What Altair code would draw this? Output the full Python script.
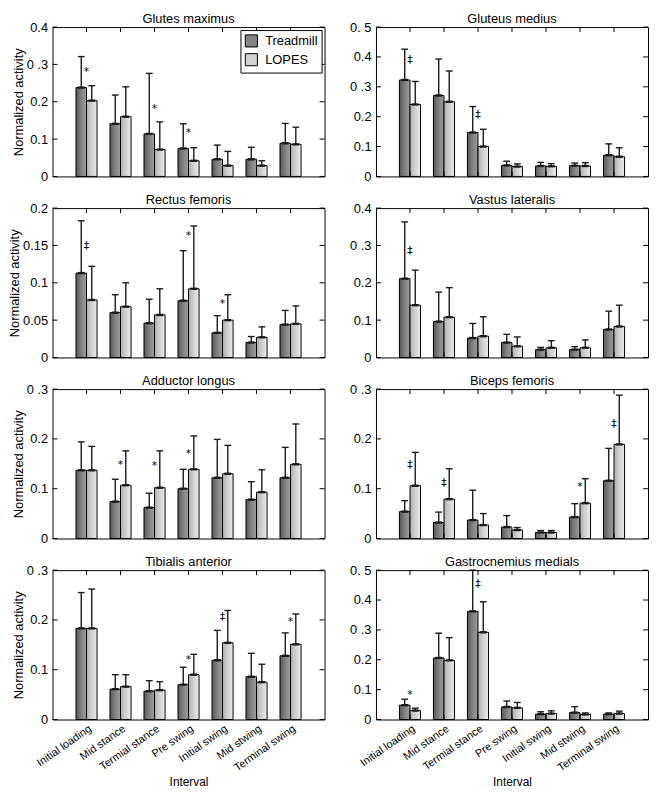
import altair as alt
import pandas as pd

INTERVALS = ['Initial loading', 'Mid stance', 'Termial stance', 'Pre swing',
             'Initial swing', 'Mid stwing', 'Terminal swing']
SERIES = ['Treadmill', 'LOPES']
MUSCLES = ['Glutes maximus', 'Gluteus medius', 'Rectus femoris', 'Vastus lateralis',
           'Adductor longus', 'Biceps femoris', 'Tibialis anterior', 'Gastrocnemius medials']
Y_MAX = [0.4, 0.5, 0.2, 0.4, 0.3, 0.3, 0.3, 0.5]
Y_TICKS = [
    [0, 0.1, 0.2, 0.3, 0.4],
    [0, 0.1, 0.2, 0.3, 0.4, 0.5],
    [0, 0.05, 0.1, 0.15, 0.2],
    [0, 0.1, 0.2, 0.3, 0.4],
    [0, 0.1, 0.2, 0.3],
    [0, 0.1, 0.2, 0.3],
    [0, 0.1, 0.2, 0.3],
    [0, 0.1, 0.2, 0.3, 0.4, 0.5],
]

# mean (bar) and upper end of error bar, per muscle, per interval
GMAX_T = [0.238, 0.141, 0.114, 0.075, 0.046, 0.046, 0.089]
GMAX_T_UP = [0.321, 0.218, 0.276, 0.141, 0.084, 0.078, 0.142]
GMAX_L = [0.203, 0.160, 0.072, 0.042, 0.029, 0.029, 0.086]
GMAX_L_UP = [0.243, 0.240, 0.146, 0.077, 0.067, 0.042, 0.132]
GMAX_SIG = [(1, '*', 0.28), (3, '*', 0.18), (4, '*', 0.116)]

GMED_T = [0.323, 0.271, 0.147, 0.037, 0.035, 0.036, 0.071]
GMED_T_UP = [0.426, 0.393, 0.234, 0.051, 0.047, 0.045, 0.109]
GMED_L = [0.241, 0.250, 0.100, 0.033, 0.034, 0.035, 0.066]
GMED_L_UP = [0.318, 0.353, 0.158, 0.042, 0.043, 0.046, 0.096]
GMED_SIG = [(1, '‡', 0.39), (3, '‡', 0.204)]

RF_T = [0.113, 0.060, 0.046, 0.076, 0.033, 0.020, 0.044]
RF_T_UP = [0.183, 0.084, 0.078, 0.143, 0.056, 0.028, 0.063]
RF_L = [0.077, 0.068, 0.057, 0.092, 0.050, 0.027, 0.045]
RF_L_UP = [0.122, 0.100, 0.092, 0.176, 0.084, 0.041, 0.069]
RF_SIG = [(1, '‡', 0.149), (4, '*', 0.162), (5, '*', 0.071)]

VL_T = [0.211, 0.096, 0.052, 0.040, 0.021, 0.021, 0.075]
VL_T_UP = [0.363, 0.175, 0.091, 0.062, 0.027, 0.029, 0.124]
VL_L = [0.140, 0.108, 0.057, 0.030, 0.026, 0.026, 0.083]
VL_L_UP = [0.234, 0.187, 0.109, 0.055, 0.045, 0.047, 0.140]
VL_SIG = [(1, '‡', 0.286)]

AL_T = [0.137, 0.074, 0.062, 0.100, 0.122, 0.078, 0.122]
AL_T_UP = [0.194, 0.119, 0.091, 0.139, 0.199, 0.114, 0.183]
AL_L = [0.137, 0.107, 0.102, 0.139, 0.130, 0.093, 0.149]
AL_L_UP = [0.185, 0.176, 0.176, 0.206, 0.187, 0.138, 0.230]
AL_SIG = [(2, '*', 0.148), (3, '*', 0.146), (4, '*', 0.169)]

BF_T = [0.054, 0.032, 0.037, 0.023, 0.012, 0.043, 0.116]
BF_T_UP = [0.076, 0.053, 0.097, 0.046, 0.016, 0.070, 0.181]
BF_L = [0.106, 0.079, 0.027, 0.017, 0.012, 0.071, 0.189]
BF_L_UP = [0.173, 0.140, 0.050, 0.022, 0.016, 0.120, 0.288]
BF_SIG = [(1, '‡', 0.148), (2, '‡', 0.112), (6, '*', 0.103), (7, '‡', 0.229)]

TA_T = [0.183, 0.061, 0.057, 0.070, 0.119, 0.086, 0.128]
TA_T_UP = [0.255, 0.090, 0.078, 0.105, 0.179, 0.133, 0.174]
TA_L = [0.183, 0.066, 0.059, 0.090, 0.154, 0.075, 0.151]
TA_L_UP = [0.262, 0.090, 0.076, 0.131, 0.219, 0.111, 0.212]
TA_SIG = [(4, '*', 0.119), (5, '‡', 0.206), (7, '*', 0.196)]

GM_T = [0.048, 0.206, 0.362, 0.042, 0.018, 0.023, 0.018]
GM_T_UP = [0.068, 0.289, 0.500, 0.062, 0.026, 0.043, 0.022]
GM_L = [0.030, 0.198, 0.292, 0.039, 0.020, 0.017, 0.020]
GM_L_UP = [0.038, 0.274, 0.394, 0.057, 0.029, 0.022, 0.028]
GM_SIG = [(1, '*', 0.083), (3, '‡', 0.453)]

PANELS = [
    (GMAX_T, GMAX_T_UP, GMAX_L, GMAX_L_UP, GMAX_SIG),
    (GMED_T, GMED_T_UP, GMED_L, GMED_L_UP, GMED_SIG),
    (RF_T, RF_T_UP, RF_L, RF_L_UP, RF_SIG),
    (VL_T, VL_T_UP, VL_L, VL_L_UP, VL_SIG),
    (AL_T, AL_T_UP, AL_L, AL_L_UP, AL_SIG),
    (BF_T, BF_T_UP, BF_L, BF_L_UP, BF_SIG),
    (TA_T, TA_T_UP, TA_L, TA_L_UP, TA_SIG),
    (GM_T, GM_T_UP, GM_L, GM_L_UP, GM_SIG),
]

W, H = 275, 151
BW = 0.31
CAP = 0.1
FONT = 'Liberation Sans'
SYMFONT = 'DejaVu Sans'

GRAD_T = alt.LinearGradient(gradient='linear', x1=0, x2=1, y1=0, y2=0, stops=[
    alt.GradientStop(color='#585858', offset=0),
    alt.GradientStop(color='#858585', offset=0.55),
    alt.GradientStop(color='#9e9e9e', offset=1)])
GRAD_L = alt.LinearGradient(gradient='linear', x1=0, x2=1, y1=0, y2=0, stops=[
    alt.GradientStop(color='#b0b0b0', offset=0),
    alt.GradientStop(color='#d4d4d4', offset=0.55),
    alt.GradientStop(color='#ebebeb', offset=1)])

label_list = "[" + ",".join("'" + s + "'" for s in INTERVALS) + "]"


def panel(i):
    t, tu, l, lu, sig = PANELS[i]
    bottom = i >= 6
    left = i % 2 == 0
    df = pd.DataFrame({
        'pos': list(range(1, 8)) * 2,
        'series': ['Treadmill'] * 7 + ['LOPES'] * 7,
        'val': t + l,
        'up': tu + lu,
    })
    sig_df = pd.DataFrame({'pos': [s[0] for s in sig], 'sym': [s[1] for s in sig],
                           'y': [s[2] for s in sig]})
    yt_df = pd.DataFrame({'t': Y_TICKS[i]})
    xt_df = pd.DataFrame({'p': list(range(1, 8))})

    xscale = alt.Scale(domain=[0, 8], nice=False, zero=False)
    yscale = alt.Scale(domain=[0, Y_MAX[i]], nice=False)
    if bottom:
        xax = alt.Axis(values=list(range(1, 8)), labelExpr=label_list + "[datum.value - 1]",
                       labelAngle=325, labelAlign='right', labelBaseline='top',
                       labelPadding=3, labelOverlap=False, labelBound=False,
                       labelFont=FONT, labelFontSize=11, labelColor='black',
                       title='Interval', titlePadding=4, titleFont=FONT, titleFontSize=12,
                       titleFontWeight='normal', titleColor='black',
                       domain=False, ticks=False, grid=False)
    else:
        xax = None
    yax = alt.Axis(values=Y_TICKS[i], format='~g',
                   labelExpr="datum.value == 0.3 ? '0 .3' : datum.value == 0.5 ? '0. 5' : datum.label",
                   title='Normalized activity' if left else None, titlePadding=1,
                   labelPadding=5, labelOverlap=False, labelFont=FONT, labelFontSize=13,
                   labelColor='black', titleFont=FONT, titleFontSize=13,
                   titleFontWeight='normal', titleColor='black',
                   domain=False, ticks=False, grid=False)

    base = alt.Chart(df).transform_calculate(
        side="datum.series == 'Treadmill' ? -1 : 1"
    ).transform_calculate(
        xc=f"datum.pos + datum.side * {BW / 2}",
        xa=f"datum.pos + datum.side * {BW / 2} - {BW / 2}",
        xb=f"datum.pos + datum.side * {BW / 2} + {BW / 2}",
        ca=f"datum.pos + datum.side * {BW / 2} - {CAP}",
        cb=f"datum.pos + datum.side * {BW / 2} + {CAP}",
    )
    X = lambda f: alt.X(f, scale=xscale, axis=xax)
    Y = lambda f: alt.Y(f, scale=yscale, axis=yax)

    bars_t = base.transform_filter("datum.series == 'Treadmill'").mark_rect(
        fill=GRAD_T, stroke='black', strokeWidth=1).encode(
        x=X('xa:Q'), x2='xb:Q', y=Y('val:Q'), y2=alt.datum(0))
    bars_l = base.transform_filter("datum.series == 'LOPES'").mark_rect(
        fill=GRAD_L, stroke='black', strokeWidth=1).encode(
        x=X('xa:Q'), x2='xb:Q', y=Y('val:Q'), y2=alt.datum(0))
    whisk = base.mark_rule(color='#1a1a1a', strokeWidth=1.4).encode(
        x=X('xc:Q'), y=Y('val:Q'), y2='up:Q')
    cap_top = base.mark_rule(color='#1a1a1a', strokeWidth=1.4).encode(
        x=X('ca:Q'), x2='cb:Q', y=Y('up:Q'))
    cap_mean = base.mark_rule(color='#1a1a1a', strokeWidth=2.4).encode(
        x=X('ca:Q'), x2='cb:Q', y=Y('val:Q'))
    marks = alt.Chart(sig_df).mark_text(font=SYMFONT, fontSize=11, color='black',
                                        baseline='middle').encode(
        x=X('pos:Q'), y=Y('y:Q'), text='sym:N')
    tk_l = alt.Chart(yt_df).mark_rule(color='black', strokeWidth=1).encode(
        y=Y('t:Q'), x=alt.value(0), x2=alt.value(5))
    tk_r = alt.Chart(yt_df).mark_rule(color='black', strokeWidth=1).encode(
        y=Y('t:Q'), x=alt.value(W - 5), x2=alt.value(W))
    tk_t = alt.Chart(xt_df).mark_rule(color='black', strokeWidth=1).encode(
        x=X('p:Q'), y=alt.value(0), y2=alt.value(5))
    tk_b = alt.Chart(xt_df).mark_rule(color='black', strokeWidth=1).encode(
        x=X('p:Q'), y=alt.value(H - 5), y2=alt.value(H))

    layers = [bars_t, bars_l, whisk, cap_top, cap_mean, marks, tk_l, tk_r, tk_t, tk_b]
    if i == 0:
        leg = base.mark_square(opacity=0, size=1).encode(
            x=X('xc:Q'), y=Y('val:Q'),
            color=alt.Color('series:N', scale=alt.Scale(domain=SERIES, range=['#858585', '#d2d2d2']),
                            legend=alt.Legend(orient='top-right', offset=3, title=None,
                                              strokeColor='black', fillColor='white',
                                              padding=4, symbolType='square', symbolSize=150,
                                              symbolStrokeColor='black', symbolStrokeWidth=1,
                                              symbolOpacity=1, labelFontSize=13, labelFont=FONT,
                                              labelColor='black',
                                              labelOffset=7, rowPadding=1)))
        layers.append(leg)
    return alt.layer(*layers).properties(
        width=W, height=H,
        title=alt.TitleParams(MUSCLES[i], fontSize=13, fontWeight='normal', font=FONT,
                              offset=-5, color='black', frame='group'))


chart = alt.concat(*[panel(i) for i in range(8)], columns=2,
                   spacing={'row': 32, 'column': 52}, bounds='flush').resolve_scale(
    x='independent', y='independent', color='independent'
).resolve_legend(color='independent').properties(
    padding={'left': 0, 'top': 0, 'right': 0, 'bottom': 0},
    background='white'
).configure_view(stroke='black', strokeWidth=1)

chart.save("out.html", embed_options={"renderer": "svg", "actions": False})
